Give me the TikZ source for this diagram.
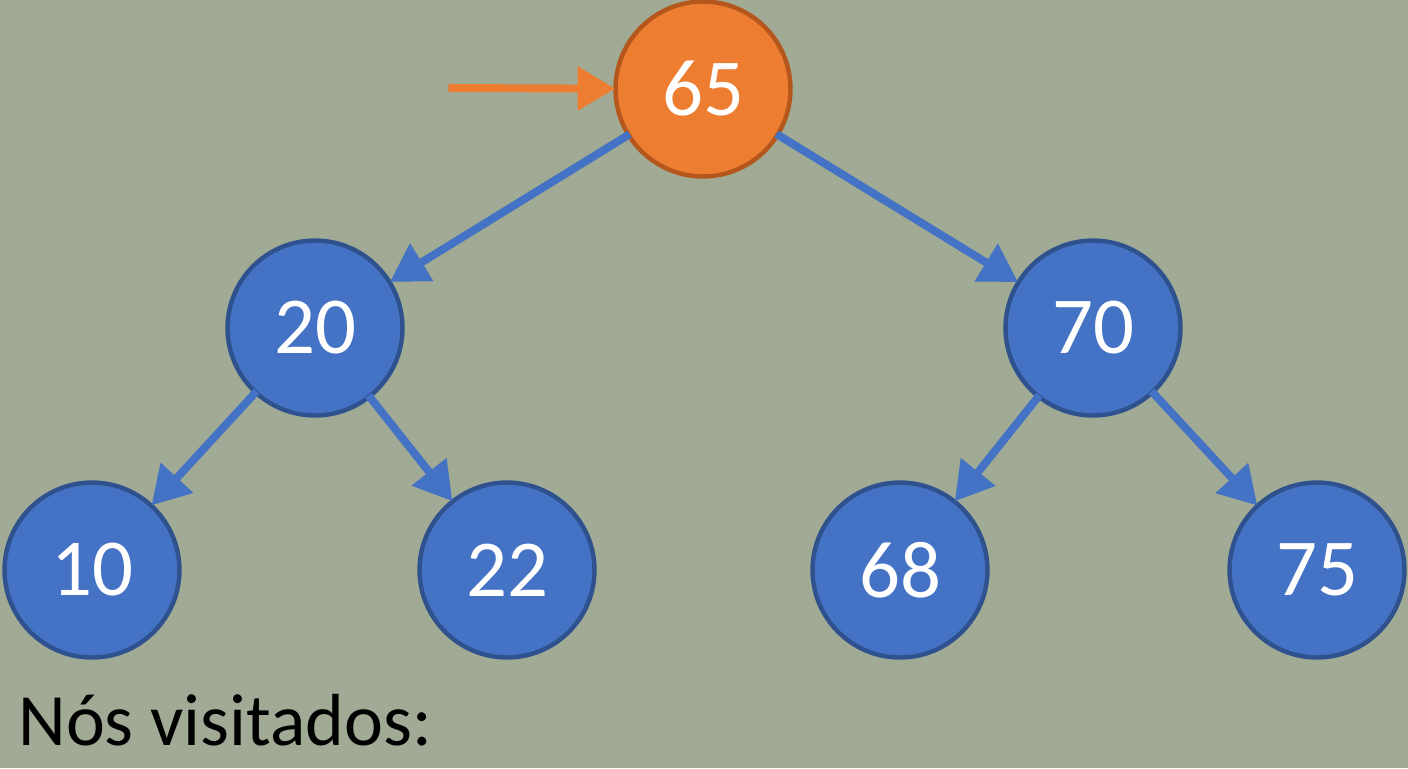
\documentclass[tikz,border=0pt]{standalone}
\usepackage{fontspec}
\setmainfont{Carlito}
\usetikzlibrary{arrows.meta}
\definecolor{bg}{HTML}{A0AA94}
\definecolor{nblue}{HTML}{4472C4}
\definecolor{nbord}{HTML}{2F528F}
\definecolor{norange}{HTML}{ED7D31}
\definecolor{obord}{HTML}{B5561C}
\begin{document}
\begin{tikzpicture}[x=0.02cm,y=-0.02cm,
  tnode/.style={circle,minimum size=3.5cm,inner sep=0pt,line width=2.5pt,draw=nbord,fill=nblue,text=white,font=\fontsize{46}{50}\selectfont},
  onode/.style={tnode,draw=obord,fill=norange},
  edge/.style={draw=nblue,line width=4.5pt,-{Triangle[length=0.75cm,width=0.85cm]},shorten <=-2pt,shorten >=-1pt}]
\fill[bg] (0,0) rectangle (1408,768);
\useasboundingbox (0,0) rectangle (1408,768);
\node[onode] (a) at (703,89) {65};
\node[tnode] (b) at (315,328) {20};
\node[tnode] (c) at (1093,328) {70};
\node[tnode] (d) at (92,570) {10};
\node[tnode] (e) at (507,570) {22};
\node[tnode] (f) at (900,570) {68};
\node[tnode] (g) at (1317,570) {75};
\coordinate (s) at (452,88);
\draw[edge,draw=norange] (s) -- (a);
\draw[edge] (a) -- (b);
\draw[edge] (a) -- (c);
\draw[edge] (b) -- (d);
\draw[edge] (b) -- (e);
\draw[edge] (c) -- (f);
\draw[edge] (c) -- (g);
\node[anchor=base west,inner sep=0pt,font=\fontsize{42}{46}\selectfont] (t) at (18,745) {Nós visitados:};
\end{tikzpicture}
\end{document}
